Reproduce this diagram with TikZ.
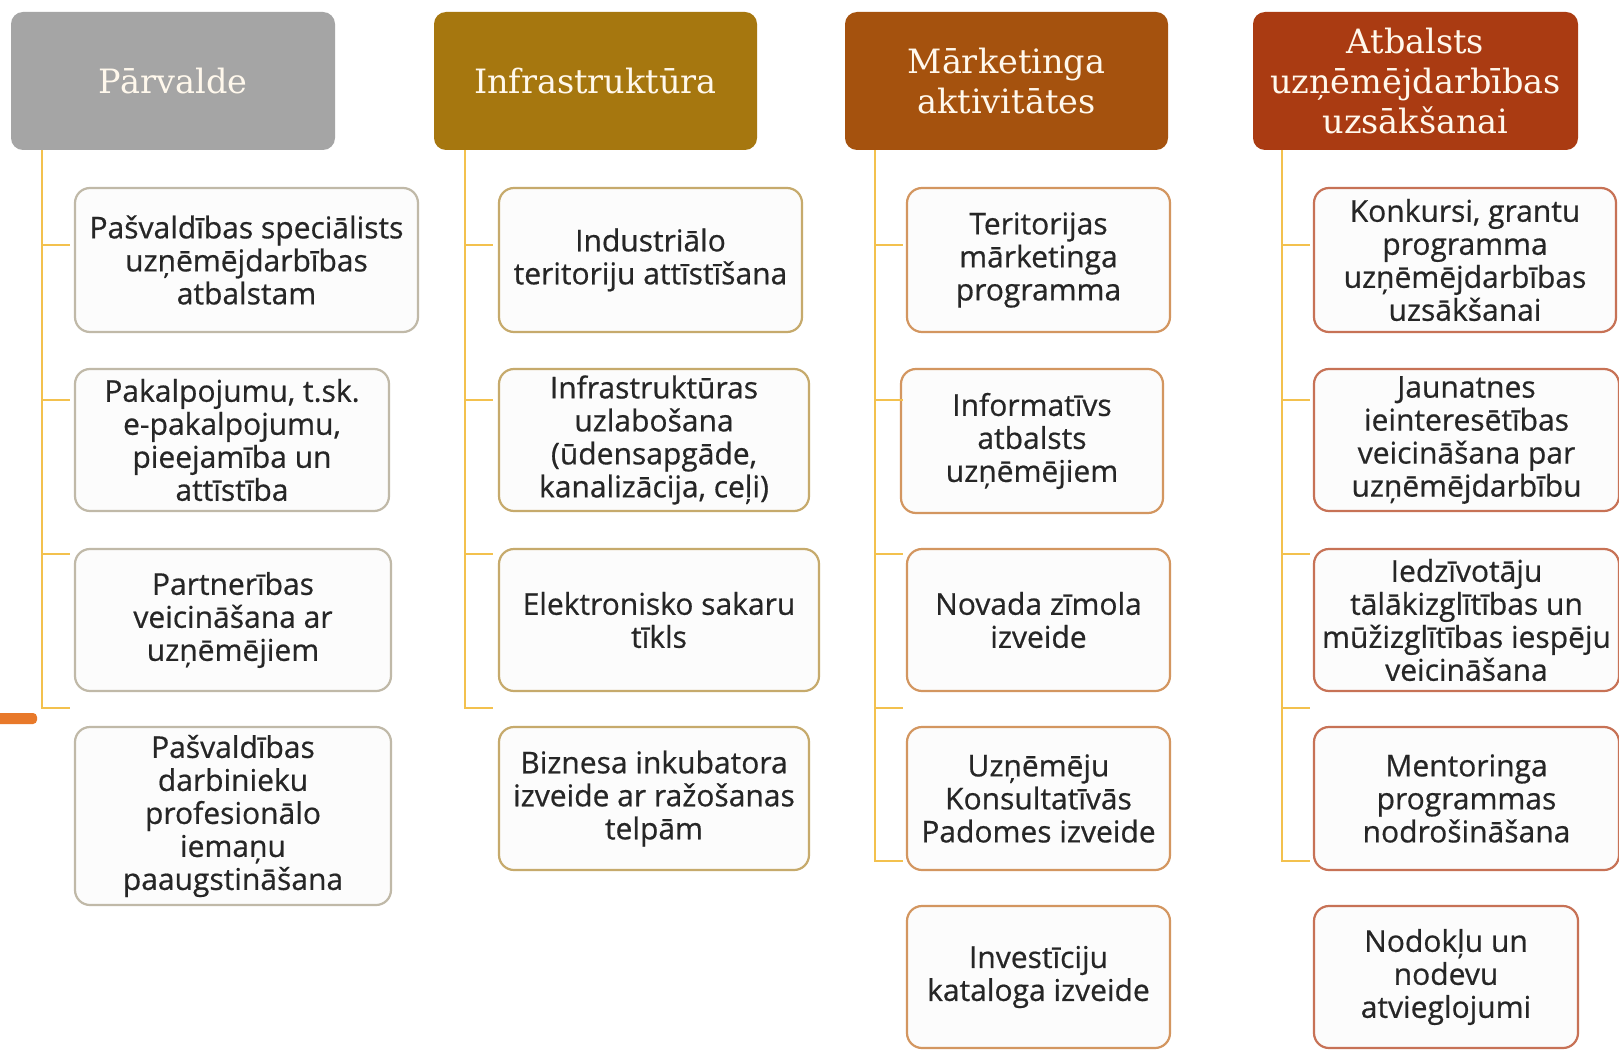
\documentclass[tikz,border=0pt]{standalone}
\usepackage{fontspec}
\setmainfont{Open Sans}
\newfontfamily\bodyfont{Open Sans}[FakeBold=0.6]
\newfontfamily\headfont{DejaVu Serif}
\definecolor{hgray}{HTML}{A5A5A5}
\definecolor{hgold}{HTML}{A6770F}
\definecolor{horange}{HTML}{A5520E}
\definecolor{hred}{HTML}{AA3B12}
\definecolor{bgray}{HTML}{C0B9A8}
\definecolor{bgold}{HTML}{C6AA6C}
\definecolor{borange}{HTML}{D39660}
\definecolor{bred}{HTML}{C77256}
\definecolor{connc}{HTML}{F3C14E}
\definecolor{barc}{HTML}{E8792A}
\definecolor{txt}{HTML}{262626}
\definecolor{htxt}{HTML}{FFF8EC}
\begin{document}
\begin{tikzpicture}[x=1pt,y=-1pt,
  hdr/.style={rounded corners=12pt, fill=#1, draw=none, inner sep=0pt,
    minimum height=138pt, align=center, text=htxt,
    font=\headfont\fontsize{33.5}{40}\selectfont},
  item/.style={rounded corners=15pt, fill=white!98!gray, draw=#1, line width=2.2pt,
    inner sep=0pt, align=center, text=txt,
    font=\bodyfont\fontsize{30}{33}\selectfont},
  conn/.style={draw=connc, line width=2pt}]
\useasboundingbox (0,0) rectangle (1619,1051);
\fill[white] (0,0) rectangle (1619,1051);

% headers
\node[hdr=hgray, minimum width=324pt] (H1) at (173,81) {Pārvalde};
\node[hdr=hgold, minimum width=323pt] (H2) at (595.5,81) {Infrastruktūra};
\node[hdr=horange, minimum width=323pt] (H3) at (1006.5,81) {Mārketinga\\aktivitātes};
\node[hdr=hred, minimum width=325pt] (H4) at (1415.5,81) {Atbalsts\\uzņēmējdarbības\\uzsākšanai};

% column 1
\node[item=bgray, minimum width=343pt, minimum height=144pt] (A1) at (246.5,260) {Pašvaldības speciālists\\uzņēmējdarbības\\atbalstam};
\node[item=bgray, minimum width=314pt, minimum height=142pt] (A2) at (232,440) {Pakalpojumu, t.sk.\\e-pakalpojumu,\\pieejamība un\\attīstība};
\node[item=bgray, minimum width=316pt, minimum height=142pt] (A3) at (233,620) {Partnerības\\veicināšana ar\\uzņēmējiem};
\node[item=bgray, minimum width=316pt, minimum height=178pt] (A4) at (233,816) {Pašvaldības\\darbinieku\\profesionālo\\iemaņu\\paaugstināšana};

% column 2
\node[item=bgold, minimum width=303pt, minimum height=144pt] (B1) at (650.5,260) {Industriālo\\teritoriju attīstīšana};
\node[item=bgold, minimum width=310pt, minimum height=142pt] (B2) at (654,440) {Infrastruktūras\\uzlabošana\\(ūdensapgāde,\\kanalizācija, ceļi)};
\node[item=bgold, minimum width=320pt, minimum height=142pt] (B3) at (659,620) {Elektronisko sakaru\\tīkls};
\node[item=bgold, minimum width=310pt, minimum height=143pt] (B4) at (654,798.5) {Biznesa inkubatora\\izveide ar ražošanas\\telpām};

% column 3
\node[item=borange, minimum width=263pt, minimum height=144pt] (C1) at (1038.5,260) {Teritorijas\\mārketinga\\programma};
\node[item=borange, minimum width=262pt, minimum height=144pt] (C2) at (1032,441) {Informatīvs\\atbalsts\\uzņēmējiem};
\node[item=borange, minimum width=263pt, minimum height=142pt] (C3) at (1038.5,620) {Novada zīmola\\izveide};
\node[item=borange, minimum width=263pt, minimum height=143pt] (C4) at (1038.5,798.5) {Uzņēmēju\\Konsultatīvās\\Padomes izveide};
\node[item=borange, minimum width=263pt, minimum height=142pt] (C5) at (1038.5,977) {Investīciju\\kataloga izveide};

% column 4
\node[item=bred, minimum width=302pt, minimum height=144pt] (D1) at (1465,260) {Konkursi, grantu\\programma\\uzņēmējdarbības\\uzsākšanai};
\node[item=bred, minimum width=305pt, minimum height=142pt] (D2) at (1466.5,440) {Jaunatnes\\ieinteresētības\\veicināšana par\\uzņēmējdarbību};
\node[item=bred, minimum width=305pt, minimum height=142pt] (D3) at (1466.5,620) {Iedzīvotāju\\tālākizglītības un\\mūžizglītības iespēju\\veicināšana};
\node[item=bred, minimum width=305pt, minimum height=143pt] (D4) at (1466.5,798.5) {Mentoringa\\programmas\\nodrošināšana};
\node[item=bred, minimum width=264pt, minimum height=142pt] (D5) at (1446,977) {Nodokļu un\\nodevu\\atvieglojumi};

% connectors column 1
\coordinate (a4) at (42,708);
\coordinate (a1) at (70,245);
\coordinate (a2) at (70,400);
\coordinate (a3) at (70,554);
\coordinate (a5) at (70,708);
\draw[conn] (H1.south -| a4) -- (a4) -- (a5);
\draw[conn] (a1 -| a4) -- (a1);
\draw[conn] (a2 -| a4) -- (a2);
\draw[conn] (a3 -| a4) -- (a3);

% connectors column 2
\coordinate (b4) at (465,708);
\coordinate (b1) at (493,245);
\coordinate (b2) at (493,400);
\coordinate (b3) at (493,554);
\coordinate (b5) at (493,708);
\draw[conn] (H2.south -| b4) -- (b4) -- (b5);
\draw[conn] (b1 -| b4) -- (b1);
\draw[conn] (b2 -| b4) -- (b2);
\draw[conn] (b3 -| b4) -- (b3);

% connectors column 3
\coordinate (c0) at (875,861);
\coordinate (c1) at (903,245);
\coordinate (c2) at (903,400);
\coordinate (c3) at (903,554);
\coordinate (c4) at (903,708);
\coordinate (c5) at (903,861);
\draw[conn] (H3.south -| c0) -- (c0) -- (c5);
\draw[conn] (c1 -| c0) -- (c1);
\draw[conn] (c2 -| c0) -- (c2);
\draw[conn] (c3 -| c0) -- (c3);
\draw[conn] (c4 -| c0) -- (c4);

% connectors column 4
\coordinate (d0) at (1282,861);
\coordinate (d1) at (1310,245);
\coordinate (d2) at (1310,400);
\coordinate (d3) at (1310,554);
\coordinate (d4) at (1310,708);
\coordinate (d5) at (1310,861);
\draw[conn] (H4.south -| d0) -- (d0) -- (d5);
\draw[conn] (d1 -| d0) -- (d1);
\draw[conn] (d2 -| d0) -- (d2);
\draw[conn] (d3 -| d0) -- (d3);
\draw[conn] (d4 -| d0) -- (d4);

% orange bar at left edge
\fill[barc, rounded corners=4pt] (-10,713) rectangle (37,724);
\end{tikzpicture}
\end{document}
